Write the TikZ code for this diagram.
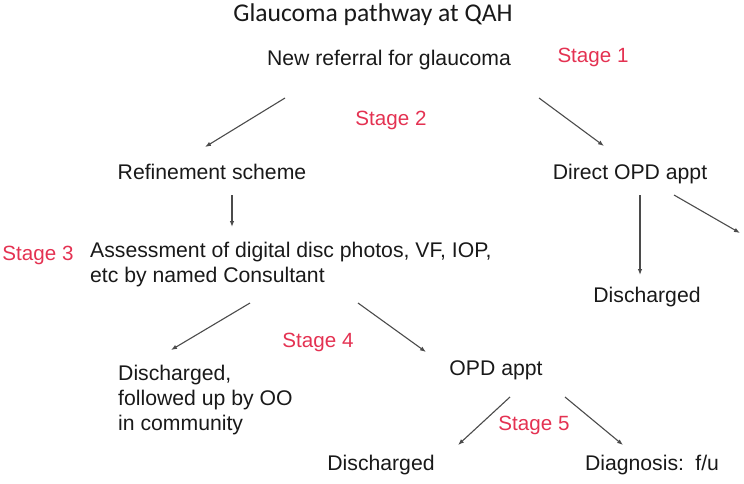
\documentclass[tikz,border=0pt]{standalone}
\usepackage{fontspec}
\setmainfont{Liberation Sans}
\newfontfamily\titlefont{Carlito}
\usetikzlibrary{arrows.meta}
\definecolor{stagered}{RGB}{228,50,82}
\definecolor{arrowgrey}{RGB}{75,75,75}
\definecolor{textblack}{RGB}{25,25,25}

\begin{document}
\begin{tikzpicture}[x=1pt, y=-1pt,
  box/.style={inner sep=0pt, text=textblack, font=\fontsize{21.2}{25}\selectfont, text height=0.72em, text depth=0.21em},
  multibox/.style={inner sep=0pt, text=textblack, font=\fontsize{21.2}{25}\selectfont, align=left, anchor=west},
  stagetag/.style={inner sep=0pt, text=stagered, font=\fontsize{20.6}{24}\selectfont, text height=0.72em, text depth=0.21em},
  arr/.style={-{Latex[length=6pt, width=4.5pt]}, draw=arrowgrey, line width=1.1pt}]
\useasboundingbox (0,0) rectangle (744,483);
\node[inner sep=0pt, text=textblack, font=\titlefont\fontsize{25.6}{30}\selectfont] (title) at (373,15) {Glaucoma pathway at QAH};
\node[box] (referral) at (389,63) {New referral for glaucoma};
\node[stagetag] (stage1) at (593,60) {Stage 1};
\node[stagetag] (stage2) at (391,123) {Stage 2};
\node[box] (refine) at (212,177) {Refinement scheme};
\node[box] (direct) at (630,177) {Direct OPD appt};
\node[stagetag] (stage3) at (38,258) {Stage 3};
\node[multibox] (assess) at (90,264.5) {Assessment of digital disc photos, VF, IOP,\\etc by named Consultant};
\node[box] (dischR) at (647,300) {Discharged};
\coordinate (loose) at (740,233);
\node[stagetag] (stage4) at (318,345) {Stage 4};
\node[multibox] (dischOO) at (118,400) {Discharged,\\followed up by OO\\in community};
\node[box] (opd) at (496,373) {OPD appt};
\node[stagetag] (stage5) at (534,428) {Stage 5};
\node[box] (dischB) at (381,468) {Discharged};
\node[box] (diag) at (652,468) {Diagnosis:\, f/u};
% stage 2 split
\draw[arr] ([shift={(-104,35)}]referral.center) -- ([shift={(-7,-30)}]refine.center);
\draw[arr] ([shift={(150,35)}]referral.center) -- ([shift={(-26,-31)}]direct.center);
% stage 3
\draw[arr] ([shift={(20,18)}]refine.center) -- ([shift={(142,-37.5)}]assess.west);
\draw[arr] ([shift={(10,18)}]direct.center) -- ([shift={(-7,-25)}]dischR.center);
\draw[arr] ([shift={(44,18)}]direct.center) -- (loose);
% stage 4
\draw[arr] ([shift={(160,38.5)}]assess.west) -- ([shift={(53,-50)}]dischOO.west);
\draw[arr] ([shift={(268,38.5)}]assess.west) -- ([shift={(-70,-21)}]opd.center);
% stage 5
\draw[arr] ([shift={(14,24)}]opd.center) -- ([shift={(77,-23)}]dischB.center);
\draw[arr] ([shift={(69,24)}]opd.center) -- ([shift={(-29,-23)}]diag.center);
\end{tikzpicture}
\end{document}
